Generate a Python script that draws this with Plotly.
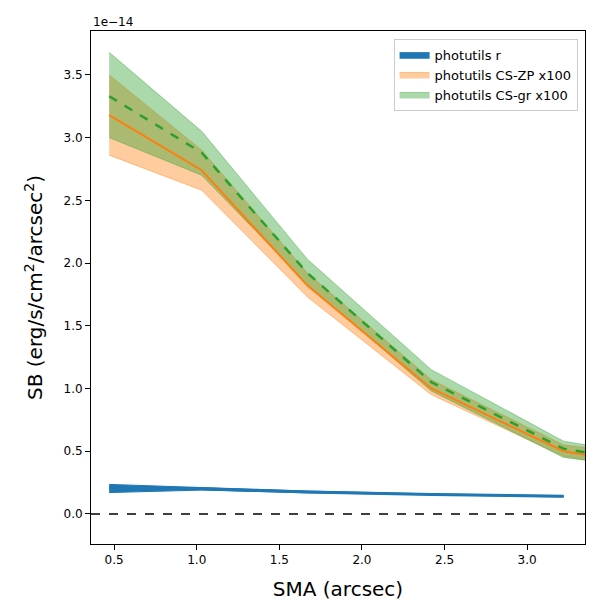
import plotly.graph_objects as go

# values in units of 1e-14 erg/s/cm^2/arcsec^2
sma = [0.47, 1.03, 1.67, 2.42, 3.22, 3.40]
sma_r = [0.47, 1.03, 1.67, 2.42, 3.22]

r_mid = [0.205, 0.200, 0.175, 0.155, 0.140]
r_lo = [0.170, 0.190, 0.168, 0.150, 0.135]
r_hi = [0.235, 0.212, 0.182, 0.160, 0.145]

zp_mid = [3.18, 2.74, 1.82, 1.00, 0.50, 0.46]
zp_lo = [2.86, 2.58, 1.73, 0.95, 0.46, 0.42]
zp_hi = [3.50, 2.90, 1.92, 1.07, 0.55, 0.52]

gr_mid = [3.33, 2.88, 1.92, 1.05, 0.52, 0.48]
gr_lo = [3.00, 2.70, 1.83, 0.98, 0.45, 0.42]
gr_hi = [3.68, 3.05, 2.03, 1.15, 0.58, 0.54]

xticks = [0.5, 1.0, 1.5, 2.0, 2.5, 3.0]
yticks = [0.0, 0.5, 1.0, 1.5, 2.0, 2.5, 3.0, 3.5]


def band(x, lo, hi, fill, line, name):
    return go.Scatter(x=x + x[::-1], y=hi + lo[::-1], fill="toself",
                      fillcolor=fill, line=dict(color=line, width=1),
                      name=name, mode="lines")


fig = go.Figure()
fig.add_trace(band(sma_r, r_lo, r_hi, "#1f77b4", "#1f77b4", "photutils r"))
fig.add_trace(band(sma, zp_lo, zp_hi, "rgba(255,127,14,0.4)",
                   "rgba(255,127,14,0.4)", "photutils CS-ZP x100"))
fig.add_trace(band(sma, gr_lo, gr_hi, "rgba(44,160,44,0.4)",
                   "rgba(44,160,44,0.4)", "photutils CS-gr x100"))
# lines drawn above the bands
fig.add_trace(go.Scatter(x=sma_r, y=r_mid, mode="lines", showlegend=False,
                         line=dict(color="#1f77b4", width=3)))
fig.add_trace(go.Scatter(x=sma, y=zp_mid, mode="lines", showlegend=False,
                         line=dict(color="#ff7f0e", width=2)))
fig.add_trace(go.Scatter(x=sma, y=gr_mid, mode="lines", showlegend=False,
                         line=dict(color="#2ca02c", width=2.5, dash="dash")))
fig.add_hline(y=0, line=dict(color="black", width=1.5, dash="dash"))

axis = dict(showgrid=False, zeroline=False, showline=True, mirror=True,
            linecolor="black", ticks="outside", tickcolor="black",
            tickfont=dict(size=12, color="black"))
fig.update_xaxes(range=[0.36, 3.35], title=dict(text="SMA (arcsec)", font=dict(size=20)),
                 tickvals=xticks, ticktext=[f"{v:.1f}" for v in xticks], **axis)
fig.update_yaxes(range=[-0.24, 3.85], tickvals=yticks,
                 ticktext=[f"{v:.1f}" for v in yticks],
                 title=dict(text="SB (erg/s/cm<sup>2</sup>/arcsec<sup>2</sup>)", font=dict(size=20)),
                 **axis)
fig.add_annotation(text="1e\u221214", xref="paper", yref="paper", x=0, y=1.0,
                   xanchor="left", yanchor="bottom", showarrow=False,
                   font=dict(size=12, color="black"))
fig.update_layout(width=600, height=600, plot_bgcolor="white", paper_bgcolor="white",
                  font=dict(family="DejaVu Sans", color="black"),
                  margin=dict(l=83, r=23, t=23, b=55),
                  legend=dict(x=0.985, y=0.985, xanchor="right", yanchor="top",
                              bordercolor="#ccc", borderwidth=1, font=dict(size=13)))
fig.write_html("out.html")
